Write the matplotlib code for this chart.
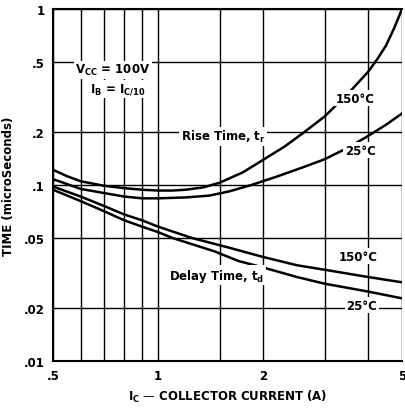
import matplotlib
matplotlib.use("Agg")
import matplotlib.pyplot as plt

# Collector current (A) and times (microseconds)
rise150_x = [0.5, 0.55, 0.6, 0.7, 0.8, 0.9, 1.0, 1.1, 1.2, 1.35, 1.5, 1.75, 2.0, 2.3, 2.6, 3.0, 3.5, 4.0, 4.25, 4.5, 4.75, 5.0]
rise150_y = [0.122, 0.112, 0.105, 0.099, 0.096, 0.094, 0.093, 0.093, 0.094, 0.097, 0.103, 0.118, 0.139, 0.165, 0.197, 0.245, 0.33, 0.44, 0.52, 0.62, 0.78, 1.0]

rise25_x = [0.5, 0.6, 0.7, 0.8, 0.9, 1.0, 1.2, 1.4, 1.6, 1.85, 2.2, 2.6, 3.0, 3.5, 4.0, 4.5, 5.0]
rise25_y = [0.108, 0.095, 0.09, 0.086, 0.084, 0.084, 0.085, 0.087, 0.092, 0.1, 0.112, 0.126, 0.14, 0.163, 0.19, 0.22, 0.255]

delay150_x = [0.5, 0.6, 0.7, 0.8, 0.9, 1.0, 1.25, 1.6, 2.0, 2.5, 3.0, 4.0, 5.0]
delay150_y = [0.098, 0.086, 0.076, 0.068, 0.063, 0.058, 0.05, 0.044, 0.039, 0.035, 0.033, 0.030, 0.028]

delay25_x = [0.5, 0.6, 0.7, 0.8, 0.9, 1.0, 1.1, 1.45, 1.7, 2.0, 2.5, 3.0, 4.0, 5.0]
delay25_y = [0.094, 0.081, 0.071, 0.063, 0.058, 0.054, 0.05, 0.042, 0.037, 0.034, 0.030, 0.0275, 0.0248, 0.0227]

x_major = [0.5, 1, 2, 5]
x_major_labels = [".5", "1", "2", "5"]
x_minor = [0.6, 0.7, 0.8, 0.9, 1.5, 3, 4]
y_major = [0.01, 0.02, 0.05, 0.1, 0.2, 0.5, 1]
y_major_labels = [".01", ".02", ".05", ".1", ".2", ".5", "1"]

plt.rcParams['font.family'] = ['DejaVu Sans']

fig = plt.figure(figsize=(4.05, 4.10), dpi=100)
ax = fig.add_axes([53/405, 1-362/410, 349/405, 352/410])
ax.set_xscale('log')
ax.set_yscale('log')
ax.set_xlim(0.5, 5)
ax.set_ylim(0.01, 1)

ax.set_xticks(x_major)
ax.set_xticklabels(x_major_labels)
ax.set_xticks(x_minor, minor=True)
ax.set_xticklabels([], minor=True)
ax.set_yticks(y_major)
ax.set_yticklabels(y_major_labels)
ax.yaxis.set_minor_locator(matplotlib.ticker.NullLocator())
ax.tick_params(which='both', length=0, labelsize=8.5, pad=6)
for lab in ax.get_xticklabels() + ax.get_yticklabels():
    lab.set_fontweight('bold')

ax.grid(True, which='both', color='black', linewidth=1.0)
for s in ax.spines.values():
    s.set_linewidth(1.5)
ax.spines['right'].set_visible(False)

lw = 1.8
ax.plot(rise150_x, rise150_y, color='black', lw=lw)
ax.plot(rise25_x, rise25_y, color='black', lw=lw)
ax.plot(delay150_x, delay150_y, color='black', lw=lw)
ax.plot(delay25_x, delay25_y, color='black', lw=lw)

bb = dict(facecolor='white', edgecolor='none', pad=1.0)
tk = dict(transform=ax.transAxes, fontsize=8.5, fontweight='bold', bbox=bb, zorder=5)
ax.text(0.063, 0.827, "V$_{\\mathregular{CC}}$ = 100V", ha='left', va='center', **tk)
ax.text(0.106, 0.773, "I$_{\\mathregular{B}}$ = I$_{\\mathregular{C/10}}$", ha='left', va='center', **tk)
ax.text(0.865, 0.747, "150°C", ha='center', va='center', **tk)
ax.text(0.487, 0.639, "Rise Time, t$_{\\mathregular{r}}$", ha='center', va='center', **tk)
ax.text(0.880, 0.599, "25°C", ha='center', va='center', **tk)
ax.text(0.874, 0.298, "150°C", ha='center', va='center', **tk)
ax.text(0.470, 0.244, "Delay Time, t$_{\\mathregular{d}}$", ha='center', va='center', **tk)
ax.text(0.885, 0.159, "25°C", ha='center', va='center', **tk)

ax.set_xlabel("I$_{\\mathregular{C}}$ — COLLECTOR CURRENT (A)", fontsize=8.5, fontweight='bold', labelpad=4)
ax.set_ylabel("TIME (microSeconds)", fontsize=8.5, fontweight='bold', labelpad=6)

fig.savefig("out.png", dpi=100)
